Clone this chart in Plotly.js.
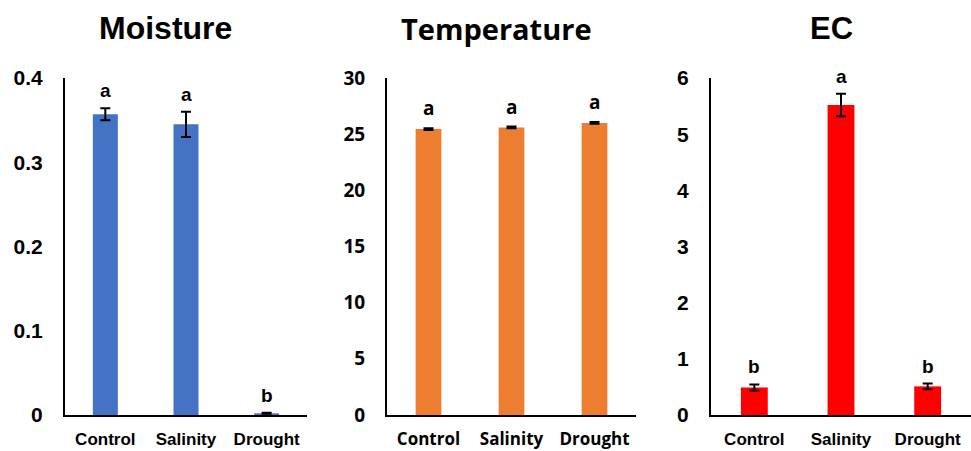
<!DOCTYPE html>
<html>
<head>
<meta charset="utf-8">
<script src="https://cdn.plot.ly/plotly-3.0.1.min.js"></script>
<style>html,body{margin:0;padding:0;background:#fff;}#chart{width:971px;height:451px;}</style>
</head>
<body>
<div id="chart"></div>
<script>
const categories = ["Control", "Salinity", "Drought"];

const moisture = [0.357, 0.345, 0.002];
const moistureErr = [0.007, 0.015, 0.0006];
const moistureLetters = ["a", "a", "b"];

const temperature = [25.45, 25.6, 26.0];
const temperatureErr = [0.08, 0.08, 0.08];
const temperatureLetters = ["a", "a", "a"];

const ec = [0.49, 5.52, 0.51];
const ecErr = [0.055, 0.2, 0.05];
const ecLetters = ["b", "a", "b"];

const panelTitles = ["Moisture", "Temperature", "EC"];

const W = 971, H = 451;
const yBot = (H - 415) / H, yTop = (H - 78) / H;

const arial = "Arial, 'Liberation Sans', sans-serif";
const segoe = "'Open Sans', 'Noto Sans', sans-serif";

const panels = [
  {vals: moisture, err: moistureErr, letters: moistureLetters, color: "#4472C4", range: [0, 0.4], dtick: 0.1, dom: [65, 307], font: arial, tickSize: 21, titleX: 165, titleSize: 32},
  {vals: temperature, err: temperatureErr, letters: temperatureLetters, color: "#ED7D31", range: [0, 30], dtick: 5, dom: [387, 636], font: segoe, tickSize: 19, titleX: 496, titleSize: 29},
  {vals: ec, err: ecErr, letters: ecLetters, color: "#FF0000", range: [0, 6], dtick: 1, dom: [711, 971], font: arial, tickSize: 21, titleX: 831, titleSize: 31}
];

const data = [];
const layout = {
  width: W, height: H,
  margin: {l: 0, r: 0, t: 0, b: 0},
  paper_bgcolor: "#fff", plot_bgcolor: "#fff",
  showlegend: false,
  annotations: []
};

panels.forEach((p, i) => {
  const n = i === 0 ? "" : String(i + 1);
  data.push({
    type: "bar",
    x: categories, y: p.vals,
    xaxis: "x" + n, yaxis: "y" + n,
    width: 0.31,
    marker: {color: p.color},
    error_y: {type: "data", array: p.err, visible: true, color: "#000", thickness: 2, width: 5},
    hoverinfo: "none"
  });
  layout["xaxis" + n] = {
    domain: [p.dom[0] / W, p.dom[1] / W],
    anchor: "y" + n,
    showline: true, linecolor: "#000", linewidth: 2,
    showgrid: false, zeroline: false, ticks: "",
    ticklabelstandoff: 8,
    tickfont: {family: p.font, size: 17, color: "#000", weight: "bold"},
    fixedrange: true
  };
  layout["yaxis" + n] = {
    domain: [yBot, yTop],
    anchor: "x" + n,
    range: p.range, dtick: p.dtick,
    showline: true, linecolor: "#000", linewidth: 2,
    showgrid: false, zeroline: false, ticks: "",
    ticklabelstandoff: 16,
    tickfont: {family: p.font, size: p.tickSize, color: "#000", weight: "bold"},
    fixedrange: true
  };
  categories.forEach((c, k) => {
    layout.annotations.push({
      xref: "x" + n, yref: "y" + n,
      x: c, y: p.vals[k] + p.err[k],
      text: "<b>" + p.letters[k] + "</b>",
      showarrow: false, yanchor: "bottom", yshift: 5,
      font: {family: p.font, size: 19, color: "#000"}
    });
  });
  layout.annotations.push({
    xref: "paper", yref: "paper",
    x: p.titleX / W, y: (H - 28) / H,
    xanchor: "center", yanchor: "middle",
    text: "<b>" + panelTitles[i] + "</b>",
    showarrow: false,
    font: {family: p.font, size: p.titleSize, color: "#000"}
  });
});

Plotly.newPlot("chart", data, layout, {displayModeBar: false, staticPlot: true});
</script>
</body>
</html>
